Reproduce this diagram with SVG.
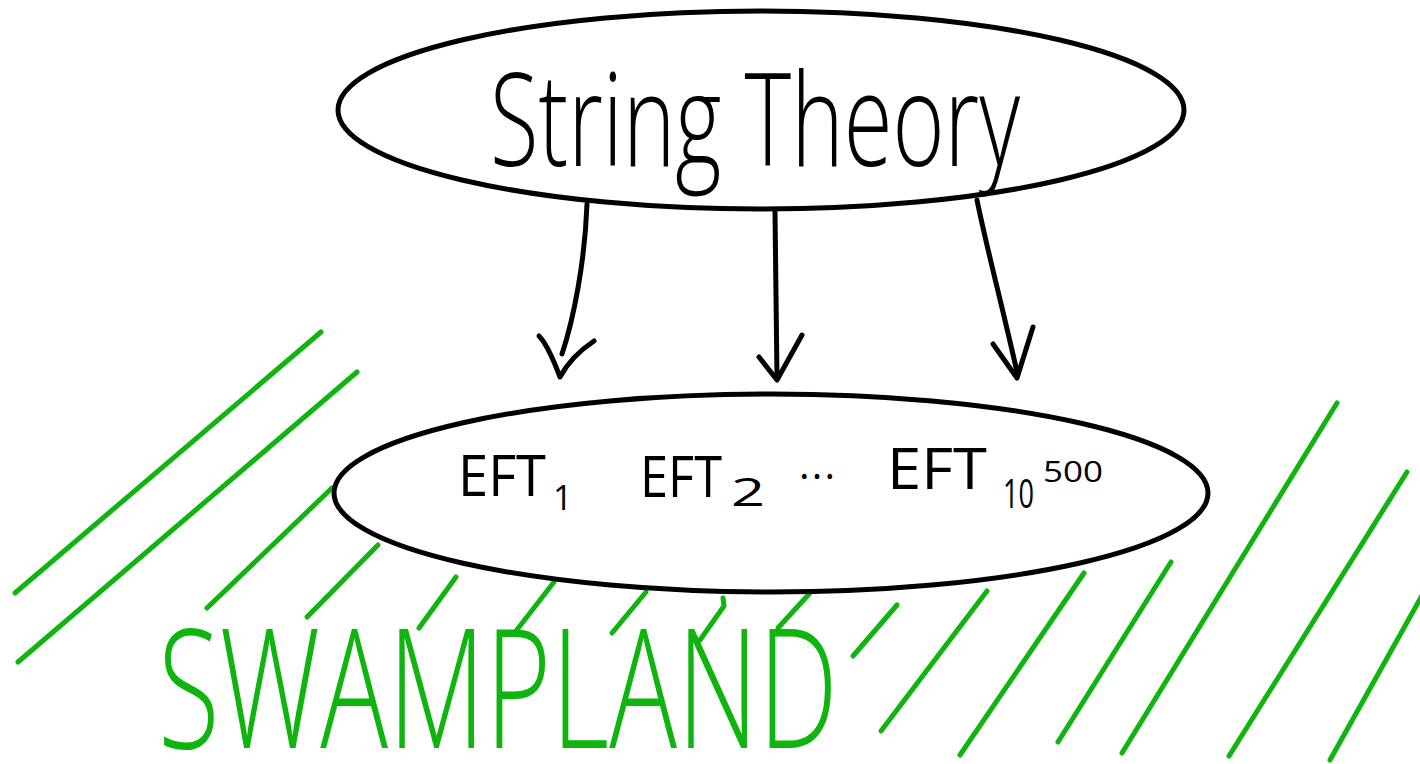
<svg xmlns="http://www.w3.org/2000/svg" width="1420" height="764" viewBox="0 0 1420 764">
  <style>
    .ink { fill: none; stroke: #000; stroke-width: 5; stroke-linecap: round; stroke-linejoin: round; }
    .node { fill: #fff; stroke: #000; stroke-width: 5; }
    .hatch { fill: none; stroke: #0fb40f; stroke-width: 5; stroke-linecap: round; stroke-linejoin: round; }
    .hand { font-family: "Open Sans", "Liberation Sans", sans-serif; font-weight: 300; fill: #000; }
    .label { font-family: "Open Sans", "Liberation Sans", sans-serif; font-weight: 400; fill: #000; }
    .swamp { font-family: "Open Sans", "Liberation Sans", sans-serif; font-weight: 300; fill: #0fb40f; }
  </style>
  <rect width="1420" height="764" fill="#fff"/>

  <g id="swampland-hatching">
    <path class="hatch" d="M321,332 L15,593"/>
    <path class="hatch" d="M357,372 L18,662"/>
    <path class="hatch" d="M332,488 L207,608"/>
    <path class="hatch" d="M378,545 L307,617"/>
    <path class="hatch" d="M456,577 L419,628"/>
    <path class="hatch" d="M554,582 L516,631"/>
    <path class="hatch" d="M646,592 L612,633"/>
    <path class="hatch" d="M723,598 L724,606 L700,640"/>
    <path class="hatch" d="M810,593 L778,628"/>
    <path class="hatch" d="M897,605 L853,656"/>
    <path class="hatch" d="M987,591 L881,731"/>
    <path class="hatch" d="M1084,573 L960,755"/>
    <path class="hatch" d="M1171,562 L1058,742"/>
    <path class="hatch" d="M1337,403 L1122,753"/>
    <path class="hatch" d="M1407,472 L1229,756"/>
    <path class="hatch" d="M1424,592 L1330,760"/>
  </g>

  <g id="swampland-label">
    <text class="swamp" x="158" y="748" font-size="166" textLength="680" lengthAdjust="spacingAndGlyphs">SWAMPLAND</text>
  </g>

  <g id="string-theory">
    <ellipse class="node" cx="761" cy="110" rx="423" ry="99"/>
    <text class="hand" x="490" y="166" font-size="130" textLength="530" lengthAdjust="spacingAndGlyphs">String Theory</text>
  </g>

  <g id="efts">
    <ellipse class="node" cx="771" cy="493" rx="437" ry="99"/>
    <text class="label" font-size="56">
      <tspan x="458" y="496" textLength="88" lengthAdjust="spacingAndGlyphs">EFT</tspan><tspan x="553" y="510" font-size="34">1</tspan>
    </text>
    <text class="label" font-size="56">
      <tspan x="640" y="497" textLength="82" lengthAdjust="spacingAndGlyphs">EFT</tspan><tspan x="731" y="506" font-size="38" textLength="34" lengthAdjust="spacingAndGlyphs">2</tspan>
    </text>
    <text class="label" x="799" y="479" font-size="40" textLength="36" lengthAdjust="spacing">...</text>
    <text class="label" font-size="56">
      <tspan x="887" y="489" textLength="100" lengthAdjust="spacingAndGlyphs">EFT</tspan><tspan x="1003" y="508" font-size="40" textLength="31" lengthAdjust="spacingAndGlyphs">10</tspan><tspan x="1043" y="482" font-size="30" textLength="60" lengthAdjust="spacingAndGlyphs">500</tspan>
    </text>
  </g>

  <g id="connectors">
    <g id="arrow-1">
      <path class="ink" d="M587,204 C585,260 574,318 562,354"/>
      <path class="ink" d="M539,336 C548,345 555,364 560,377 C568,362 582,349 594,341"/>
    </g>
    <g id="arrow-2">
      <path class="ink" d="M775,212 L777,378"/>
      <path class="ink" d="M759,357 L777,380 L802,335"/>
    </g>
    <g id="arrow-3">
      <path class="ink" d="M977,200 C986,245 1002,305 1017,372"/>
      <path class="ink" d="M993,344 L1017,378 L1033,327"/>
    </g>
  </g>
</svg>
